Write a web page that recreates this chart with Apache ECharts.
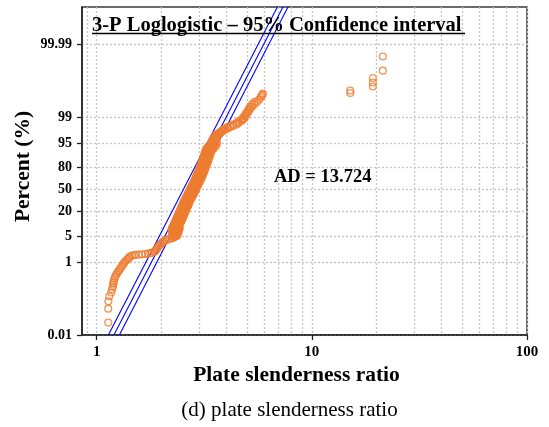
<!DOCTYPE html>
<html><head><meta charset="utf-8">
<script src="https://cdn.jsdelivr.net/npm/echarts@6/dist/echarts.min.js"></script>
<style>html,body{margin:0;padding:0;background:#fff}#c{width:549px;height:427px}</style>
</head><body><div id="c"></div>
<script>
const titleText = '3-P Loglogistic \u2013 95% Confidence interval';
const captionText = '(d) plate slenderness ratio';
const adText = 'AD = 13.724';
const xName = 'Plate slenderness ratio';
const yName = 'Percent (%)';

const xTickValues = [1, 10, 100];
const xGridValues = [0.9, 1, 2, 3, 4, 5, 6, 7, 8, 9, 10, 20, 30, 40, 50, 60, 70, 80, 90, 100];
const yTickPercents = [0.01, 1, 5, 20, 50, 80, 95, 99, 99.99];
const yTickLabels = ['0.01', '1', '5', '20', '50', '80', '95', '99', '99.99'];
const xMin = 0.855, xMax = 100;
const yMinPercent = 0.01, yMaxPercent = 99.99904;

// main body of the sample (right side of the dense band)
const corePercent = [0.022,0.053,0.084,0.116,0.147,0.18,0.21,0.24,0.27,0.30,0.35,0.40,0.45,0.50,0.55,0.60,0.67,0.75,0.83,0.92,
  1.00,1.10,1.20,1.30,1.40,1.50,1.55,1.58,1.60,1.63,1.66,1.70,1.75,1.80,1.90,2.0,2.2,2.4,2.6,2.8,3.0,3.2,3.4,3.6,3.8,4.0,4.2,4.4,4.6,4.8,
  5.0,5.5,6.0,6.5,7.0,7.5,8.0,8.5,9.0,10,11,12,13,14,15,16.5,18,20,22,24,26,28,30,32.5,35,37.5,40,42.5,45,47.5,
  50,52.5,55,57.5,60,62.5,65,67.5,70,72,74,76,78,80,82,84,85.5,87,88.5,90,91,92,93,94,95,95.5,96,96.5,97,97.2,97.4,97.6,97.8,97.95,
  98.1,98.25,98.4,98.55,98.7,98.8,98.9,99.05,99.2,99.3,99.4,99.48,99.55,99.61,99.66,99.70,99.73,99.75,99.77];
const coreRatio = [1.132,1.132,1.134,1.145,1.169,1.180,1.188,1.193,1.197,1.201,1.210,1.219,1.232,1.245,1.260,1.272,1.288,1.306,1.322,1.337,
  1.350,1.371,1.394,1.412,1.427,1.458,1.490,1.522,1.571,1.623,1.684,1.730,1.777,1.806,1.855,1.874,1.895,1.915,1.931,1.956,1.977,1.999,2.020,2.048,2.086,2.131,2.189,2.248,2.284,2.309,
  2.324,2.341,2.354,2.363,2.374,2.384,2.394,2.407,2.417,2.438,2.459,2.477,2.496,2.512,2.528,2.547,2.566,2.591,2.613,2.636,2.656,2.676,2.693,2.719,2.745,2.771,2.798,2.822,2.847,2.871,
  2.892,2.917,2.942,2.967,2.993,3.022,3.048,3.074,3.097,3.120,3.144,3.164,3.188,3.212,3.239,3.267,3.292,3.316,3.341,3.370,3.392,3.417,3.443,3.476,3.513,3.543,3.578,3.628,3.694,3.742,3.794,3.872,3.960,4.067,
  4.178,4.313,4.478,4.575,4.698,4.769,4.851,4.946,5.025,5.090,5.172,5.284,5.416,5.562,5.683,5.768,5.836,5.880,5.925];

// dense band read across its width (steep part)
const bandPercent = [5.0,5.5,6.0,6.5,7.0,7.5,8.0,8.5,9,10,11,12,13,14,15,16.5,18,20,22,24,26,28,30,32.5,35,37.5,40,42.5,45,47.5,
  50,52.5,55,57.5,60,62.5,65,67.5,70,72,74,76,78,80,82,84,85.5,87,88.5,90,91,92,93,94,95,95.5,96,96.5,97];
const bandMidRatio = [2.250,2.267,2.279,2.289,2.299,2.308,2.318,2.331,2.341,2.361,2.381,2.399,2.417,2.432,2.448,2.467,2.485,2.509,2.531,2.552,2.572,2.591,2.608,2.633,2.658,2.684,2.710,2.733,2.757,2.780,
  2.801,2.825,2.849,2.874,2.898,2.926,2.951,2.977,2.999,3.022,3.044,3.064,3.087,3.110,3.137,3.164,3.188,3.212,3.235,3.263,3.284,3.309,3.334,3.366,3.402,3.431,3.465,3.513,3.578];
const bandInnerRatio = [2.287,2.304,2.316,2.325,2.336,2.346,2.356,2.369,2.378,2.399,2.420,2.437,2.456,2.472,2.488,2.506,2.525,2.550,2.571,2.594,2.614,2.633,2.650,2.675,2.701,2.727,2.753,2.777,2.801,2.825,
  2.846,2.870,2.895,2.920,2.945,2.974,2.999,3.025,3.047,3.070,3.094,3.113,3.137,3.161,3.187,3.215,3.239,3.263,3.288,3.316,3.338,3.362,3.388,3.420,3.457,3.486,3.521,3.570,3.635];

const leftInnerPercent = [6.0,6.5,7.0,7.5,8.0,8.5,9,10,11,12,13,14,15,16.5,18,20,22,24,26,28,30,32.5,35,37.5,40,42.5,45,47.5,
  50,52.5,55,57.5,60,62.5,65,67.5,70,72,74,76,78,80,82,84,85.5,87,88.5,90,91,92,93,94];
const leftInnerRatio = [2.244,2.252,2.263,2.272,2.282,2.294,2.304,2.324,2.344,2.361,2.379,2.394,2.409,2.428,2.446,2.470,2.490,2.512,2.531,2.551,2.567,2.592,2.616,2.641,2.667,2.690,2.714,2.736,
  2.756,2.780,2.804,2.828,2.853,2.880,2.905,2.930,2.952,2.974,2.997,3.016,3.038,3.061,3.087,3.114,3.138,3.161,3.184,3.212,3.233,3.257,3.282,3.313];

const leftEdgePercent = [7.0,7.5,8.0,8.5,9,10,11,12,13,14,15,16.5,18,20,22,24,26,28,30,32.5,35,37.5,40,42.5,45,47.5,
  50,52.5,55,57.5,60,62.5,65,67.5,70,72,74,76,78,80,82,84,85.5,87,88.5,90,91,92,93];
const leftEdgeRatio = [2.227,2.236,2.245,2.258,2.267,2.287,2.306,2.323,2.341,2.356,2.371,2.389,2.407,2.430,2.451,2.472,2.491,2.510,2.526,2.550,2.575,2.599,2.624,2.647,2.670,2.693,
  2.712,2.736,2.759,2.783,2.807,2.834,2.859,2.883,2.905,2.926,2.949,2.968,2.990,3.013,3.038,3.064,3.088,3.110,3.134,3.161,3.181,3.205,3.229];

// right-hand extras at the shoulder and at the bend near 95 %
const rightExtraPercent = [5.0,5.5,6.0,6.5,7.0,7.5,8.0,93,94,95,94,95];
const rightExtraRatio = [2.361,2.378,2.392,2.401,2.412,2.422,2.432,3.498,3.532,3.569,3.589,3.628];

// upper edge of the flattening upper tail
const upperTailPercent = [97.0,97.2,97.4,97.6,97.8,97.95,98.1,98.25,98.4,98.55,98.7,98.8,98.9,99.05,99.2,99.3,99.4,99.48,99.55,99.61];
const upperTailRatio = [3.628,3.694,3.742,3.794,3.872,3.960,4.067,4.178,4.313,4.478,4.575,4.698,4.769,4.851,4.946,5.025,5.090,5.172,5.284,5.416];

// isolated large values
const outlierPercent = [99.778, 99.811, 99.853, 99.886, 99.914, 99.946, 99.978];
const outlierRatio = [15.09, 15.09, 19.21, 19.21, 19.21, 21.38, 21.38];

// fitted distribution and 95% confidence bounds (end points)
const fitPercent = [0.01, 99.9995];
const lowerBoundRatio = [1.134, 7.320];
const fitRatio = [1.203, 7.771];
const upperBoundRatio = [1.276, 8.198];

const logit = p => Math.log(p / (100 - p));
const pairs = (xs, ps) => xs.map((x, i) => [x, logit(ps[i])]);
const yTickPos = yTickPercents.map(logit);

const serif = '"Liberation Serif", "Times New Roman", serif';
const orange = '#ED7D31';
const gridLine = { show: true, lineStyle: { color: '#c4c4c4', type: [2, 2], width: 1.3 } };

const scatterPoints = pairs(coreRatio, corePercent)
  .concat(pairs(bandMidRatio, bandPercent))
  .concat(pairs(bandInnerRatio, bandPercent))
  .concat(pairs(leftInnerRatio, leftInnerPercent))
  .concat(pairs(leftEdgeRatio, leftEdgePercent))
  .concat(pairs(rightExtraRatio, rightExtraPercent))
  .concat(pairs(upperTailRatio, upperTailPercent))
  .concat(pairs(outlierRatio, outlierPercent));

const blueLine = (name, xs) => ({
  name, type: 'line', xAxisIndex: 0, yAxisIndex: 0,
  data: pairs(xs, fitPercent), showSymbol: false, symbol: 'none', clip: true,
  lineStyle: { color: '#0000FF', width: 1.1 }, z: 2, silent: true
});

const chart = echarts.init(document.getElementById('c'), null, { renderer: 'canvas' });
chart.setOption({
  animation: false,
  backgroundColor: '#fff',
  title: [{
    text: titleText, left: 92, top: 15, padding: 0,
    textStyle: { fontFamily: serif, fontWeight: 'bold', fontSize: 20.5, color: '#000' }
  }],
  graphic: [
    { type: 'line', shape: { x1: 92, y1: 33.5, x2: 465, y2: 33.5 }, style: { stroke: '#000', lineWidth: 1.5 }, z: 10 },
    { type: 'text', x: 274, y: 177, style: { text: adText, font: 'bold 18.5px ' + serif, fill: '#000', textVerticalAlign: 'middle' }, z: 10 },
    { type: 'text', x: 289.5, y: 410, style: { text: captionText, font: '21px ' + serif, fill: '#000', textAlign: 'center', textVerticalAlign: 'middle' }, z: 10 }
  ],
  grid: { left: 82, right: 22, top: 7, bottom: 92, show: true, borderColor: '#3a3a3a', borderWidth: 1.5, backgroundColor: 'transparent' },
  xAxis: [{
    type: 'log', logBase: 10, min: xMin, max: xMax, position: 'bottom',
    axisLine: { show: true, onZero: false, lineStyle: { color: '#222', width: 1.5 } },
    axisTick: { show: false, customValues: xGridValues },
    axisLabel: { show: false },
    splitLine: gridLine,
    minorSplitLine: { show: false }
  }, {
    type: 'log', logBase: 10, min: xMin, max: xMax, position: 'bottom',
    axisLine: { show: false, onZero: false },
    axisTick: { show: true, customValues: xTickValues, length: 5, lineStyle: { color: '#222', width: 1.3 } },
    axisLabel: { show: true, customValues: xTickValues, margin: 10, fontFamily: serif, fontWeight: 'bold', fontSize: 15, color: '#000',
      formatter: v => String(Math.round(v)) },
    splitLine: { show: false },
    name: xName, nameLocation: 'middle', nameGap: 29, nameMoveOverlap: false,
    nameTextStyle: { fontFamily: serif, fontWeight: 'bold', fontSize: 21.5, color: '#000', padding: [0, 16, 0, 0] }
  }],
  yAxis: [{
    type: 'value', min: logit(yMinPercent), max: logit(yMaxPercent),
    axisLine: { show: true, onZero: false, lineStyle: { color: '#222', width: 1.5 } },
    axisTick: { show: true, customValues: yTickPos, length: 5, lineStyle: { color: '#222', width: 1.3 } },
    axisLabel: { show: true, customValues: yTickPos, margin: 10, fontFamily: serif, fontWeight: 'bold', fontSize: 14, color: '#000',
      formatter: v => {
        let best = 0;
        yTickPos.forEach((t, i) => { if (Math.abs(t - v) < Math.abs(yTickPos[best] - v)) best = i; });
        return yTickLabels[best];
      } },
    splitLine: gridLine,
    name: yName, nameLocation: 'middle', nameGap: 48, nameMoveOverlap: false,
    nameTextStyle: { fontFamily: serif, fontWeight: 'bold', fontSize: 21.5, color: '#000', padding: [0, 0, 0, 9] }
  }],
  series: [
    blueLine('Lower 95% bound', lowerBoundRatio),
    blueLine('Fit', fitRatio),
    blueLine('Upper 95% bound', upperBoundRatio),
    {
      name: 'Plate slenderness ratio', type: 'scatter', xAxisIndex: 0, yAxisIndex: 0,
      data: scatterPoints, symbol: 'circle', symbolSize: 6.8,
      itemStyle: { color: 'rgba(0,0,0,0)', borderColor: orange, borderWidth: 1.4 },
      emphasis: { disabled: true }, z: 3, silent: true
    }
  ]
});
</script>
</body></html>
